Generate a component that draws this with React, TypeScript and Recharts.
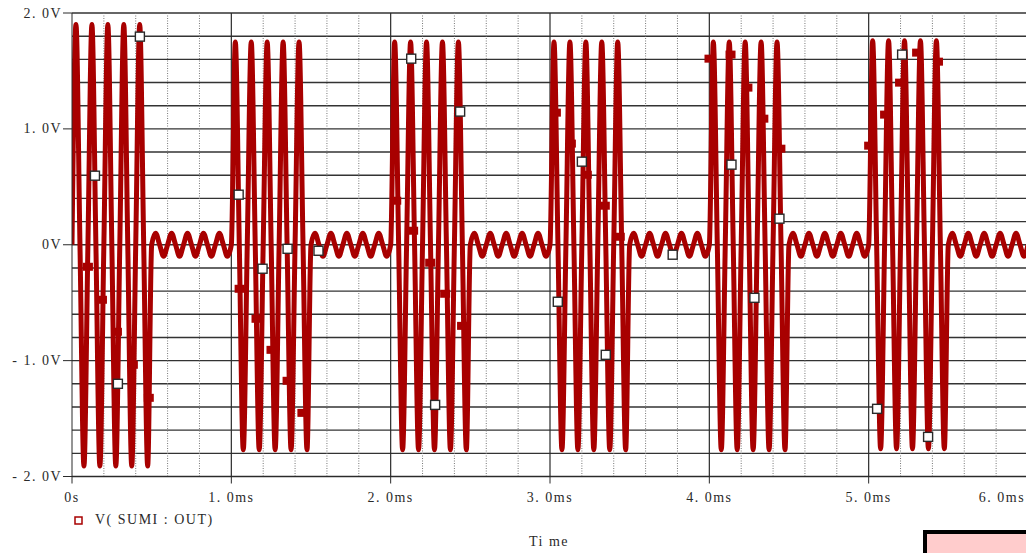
import React from 'react';
import { ComposedChart, Line, Scatter, XAxis, YAxis, CartesianGrid } from 'recharts';

// carrier: 0.1 ms period, 5 cycles per burst / ripple stretch
const CARRIER_PERIOD_MS = 0.1;
const CYCLES_PER_STRETCH = 5;

const burstStartsMs = [0, 1, 2, 3, 4, 5];
const burstHighs = [1.9, 1.75, 1.75, 1.75, 1.75, 1.76];
const burstLows = [-1.91, -1.77, -1.77, -1.77, -1.77, -1.76];
const rippleHigh = 0.1;
const rippleLow = -0.1;

const xTicks = [0, 1, 2, 3, 4, 5, 6];
const xTickLabels = ['0s', '1. 0ms', '2. 0ms', '3. 0ms', '4. 0ms', '5. 0ms', '6. 0ms'];
const yTicks = [-2, -1, 0, 1, 2];
const yTickLabels = ['- 2. 0V', '- 1. 0V', '0V', '1. 0V', '2. 0V'];

const hGridValues = [
  -2, -1.8, -1.6, -1.4, -1.2, -1, -0.8, -0.6, -0.4, -0.2, 0,
  0.2, 0.4, 0.6, 0.8, 1, 1.2, 1.4, 1.6, 1.8, 2,
];
const vMinorValues = [
  0.2, 0.4, 0.6, 0.8, 1.2, 1.4, 1.6, 1.8, 2.2, 2.4, 2.6, 2.8,
  3.2, 3.4, 3.6, 3.8, 4.2, 4.4, 4.6, 4.8, 5.2, 5.4, 5.6, 5.8,
];
const vMajorValues = [1, 2, 3, 4, 5, 6];

// symbol markers on the trace (ms, V)
const openMarkers = [
  { t: 0.144, v: 0.596 }, { t: 0.288, v: -1.2 }, { t: 0.426, v: 1.796 },
  { t: 1.046, v: 0.432 }, { t: 1.196, v: -0.207 }, { t: 1.353, v: -0.035 },
  { t: 1.547, v: -0.052 }, { t: 2.129, v: 1.606 }, { t: 2.279, v: -1.382 },
  { t: 2.436, v: 1.149 }, { t: 3.049, v: -0.492 }, { t: 3.2, v: 0.717 },
  { t: 3.35, v: -0.95 }, { t: 3.77, v: -0.086 }, { t: 4.139, v: 0.691 },
  { t: 4.283, v: -0.458 }, { t: 4.44, v: 0.225 }, { t: 5.053, v: -1.416 },
  { t: 5.21, v: 1.641 }, { t: 5.373, v: -1.658 },
];
const filledMarkers = [
  { t: 0.1, v: -0.19 }, { t: 0.188, v: -0.475 }, { t: 0.282, v: -0.751 },
  { t: 0.382, v: -1.036 }, { t: 0.482, v: -1.321 },
  { t: 1.052, v: -0.38 }, { t: 1.158, v: -0.639 }, { t: 1.252, v: -0.907 },
  { t: 1.353, v: -1.174 }, { t: 1.446, v: -1.451 },
  { t: 2.035, v: 0.38 }, { t: 2.141, v: 0.121 }, { t: 2.248, v: -0.155 },
  { t: 2.342, v: -0.423 }, { t: 2.448, v: -0.7 },
  { t: 3.037, v: 1.14 }, { t: 3.131, v: 0.873 }, { t: 3.231, v: 0.604 },
  { t: 3.344, v: 0.337 }, { t: 3.438, v: 0.069 },
  { t: 4.001, v: 1.606 }, { t: 4.133, v: 1.641 }, { t: 4.239, v: 1.356 },
  { t: 4.339, v: 1.088 }, { t: 4.446, v: 0.829 },
  { t: 5.003, v: 0.855 }, { t: 5.103, v: 1.123 }, { t: 5.197, v: 1.399 },
  { t: 5.304, v: 1.658 }, { t: 5.435, v: 1.58 },
];

// quarter-period samples: 0, high, 0, low for each cycle
function buildWave() {
  const pts: { t: number; v: number }[] = [];
  const q = CARRIER_PERIOD_MS / 4;
  burstStartsMs.forEach((start, i) => {
    const stretches = [
      [burstHighs[i], burstLows[i]],
      [rippleHigh, rippleLow],
    ];
    stretches.forEach(([hi, lo], s) => {
      for (let c = 0; c < CYCLES_PER_STRETCH; c++) {
        const t0 = start + s * CYCLES_PER_STRETCH * CARRIER_PERIOD_MS + c * CARRIER_PERIOD_MS;
        pts.push({ t: +t0.toFixed(4), v: 0 });
        pts.push({ t: +(t0 + q).toFixed(4), v: hi });
        pts.push({ t: +(t0 + 2 * q).toFixed(4), v: 0 });
        pts.push({ t: +(t0 + 3 * q).toFixed(4), v: lo });
      }
    });
  });
  pts.push({ t: 6, v: 0 });
  return pts;
}
const wave = buildWave();

const TRACE = '#a80000';
const INK = '#2a2a2a';
const FONT = '"Liberation Serif", "Times New Roman", serif';

const YTick = (props: any) => {
  const { x, y, payload } = props;
  const i = yTicks.indexOf(payload.value);
  return (
    <text x={x} y={y} dy={4.5} textAnchor="end" fontFamily={FONT} fontSize={14}
      letterSpacing={1.5} fill={INK}>
      {yTickLabels[i]}
    </text>
  );
};

const XTick = (props: any) => {
  const { x, y, payload } = props;
  const i = xTicks.indexOf(payload.value);
  const last = i === xTicks.length - 1;
  return (
    <text x={last ? x - 26 : x} y={y} dy={16} textAnchor="middle"
      fontFamily={FONT} fontSize={14} letterSpacing={1.5} fill={INK}>
      {xTickLabels[i]}
    </text>
  );
};

const OpenSquare = (props: any) => (
  <rect x={props.cx - 4.5} y={props.cy - 4.5} width={9} height={9}
    fill="#fff" stroke={INK} strokeWidth={1.4} />
);
const FilledSquare = (props: any) => (
  <rect x={props.cx - 5} y={props.cy - 4} width={10} height={8} fill={TRACE} />
);

export default function App() {
  return (
    <div style={{ position: 'absolute', left: 8, top: 4, width: 1018, height: 549, overflow: 'hidden' }}>
      <ComposedChart width={1040} height={549}
        margin={{ top: 9, right: 20, left: 0, bottom: 46.5 }}>
        <CartesianGrid vertical={false} horizontalValues={hGridValues}
          stroke="#333" strokeWidth={1.4} />
        <CartesianGrid horizontal={false} verticalValues={vMinorValues}
          stroke="#777" strokeDasharray="1 1.5" />
        <CartesianGrid horizontal={false} verticalValues={vMajorValues}
          stroke={INK} strokeWidth={1.2} />
        <XAxis type="number" dataKey="t" domain={[0, 6]} ticks={xTicks}
          allowDataOverflow height={30} tickSize={7} tickMargin={2}
          stroke={INK} tick={<XTick />} interval={0} />
        <YAxis type="number" domain={[-2, 2]} ticks={yTicks} width={64}
          allowDataOverflow tickSize={9} tickMargin={1} stroke={INK}
          tick={<YTick />} interval={0} />
        <Line data={wave} dataKey="v" type="monotone" dot={false}
          stroke={TRACE} strokeWidth={5} isAnimationActive={false} />
        <Scatter data={filledMarkers} dataKey="v" shape={<FilledSquare />}
          isAnimationActive={false} />
        <Scatter data={openMarkers} dataKey="v" shape={<OpenSquare />}
          isAnimationActive={false} />
      </ComposedChart>
      <svg width={1018} height={549}
        style={{ position: 'absolute', left: 0, top: 0, pointerEvents: 'none' }}>
        <rect x={67} y={513} width={7} height={7} fill="#fff" stroke={TRACE} strokeWidth={1.5} />
        <text x={87} y={520} fontFamily={FONT} fontSize={14} letterSpacing={1.5} fill={INK}>
          V( SUMI : OUT)
        </text>
        <text x={541} y={542} textAnchor="middle" fontFamily={FONT} fontSize={14}
          letterSpacing={1.5} fill={INK}>
          Ti me
        </text>
        <rect x={917} y={528} width={200} height={100} fill="#ffcccc" stroke="#000" strokeWidth={4} />
      </svg>
    </div>
  );
}
